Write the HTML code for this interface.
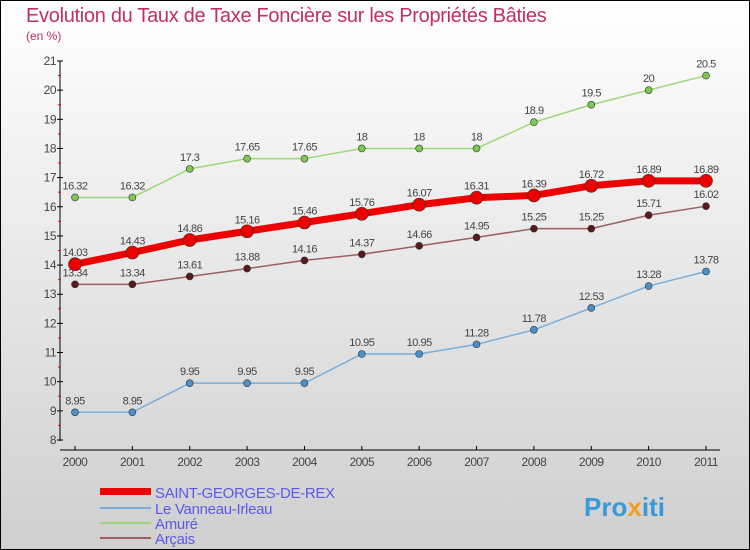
<!DOCTYPE html>
<html><head><meta charset="utf-8"><style>
body{margin:0;}
svg{display:block;font-family:"Liberation Sans","DejaVu Sans",sans-serif;}
</style></head><body>
<svg id="c" width="750" height="550" xmlns="http://www.w3.org/2000/svg">
<defs><linearGradient id="bg" x1="0" y1="0" x2="0" y2="1"><stop offset="0" stop-color="#ffffff"/><stop offset="1" stop-color="#cfcfcf"/></linearGradient></defs>
<rect x="0.5" y="0.5" width="749" height="549" fill="url(#bg)" stroke="#000"/>
<text x="26" y="22" font-size="20" fill="#c0305f" letter-spacing="-0.3">Evolution du Taux de Taxe Foncière sur les Propriétés Bâties</text>
<text x="26" y="40" font-size="12" fill="#c0305f">(en %)</text>
<g id="axes"></g>
<g id="series"></g>
<g>
<rect x="100" y="488" width="51" height="7" fill="#e00"/>
<text x="155" y="498" font-size="15" fill="#5a5ae6" letter-spacing="-0.3">SAINT-GEORGES-DE-REX</text>
<rect x="100" y="507" width="51" height="2" fill="#7aaed8"/>
<text x="155" y="514" font-size="15" fill="#5a5ae6" letter-spacing="-0.3">Le Vanneau-Irleau</text>
<rect x="100" y="522" width="51" height="2" fill="#9cd87a"/>
<text x="155" y="529" font-size="15" fill="#5a5ae6" letter-spacing="-0.3">Amuré</text>
<rect x="100" y="537" width="51" height="2" fill="#9a6060"/>
<text x="155" y="544" font-size="15" fill="#5a5ae6" letter-spacing="-0.3">Arçais</text>
</g>
<text x="584" y="516" font-size="26" font-weight="bold" fill="#3a9ad9">Pro<tspan fill="#f0a020">x</tspan>iti</text>
</svg>
<script>
const years=[2000,2001,2002,2003,2004,2005,2006,2007,2008,2009,2010,2011];
const yTicks=[8,9,10,11,12,13,14,15,16,17,18,19,20,21];
const saint=[14.03,14.43,14.86,15.16,15.46,15.76,16.07,16.31,16.39,16.72,16.89,16.89];
const vanneau=[8.95,8.95,9.95,9.95,9.95,10.95,10.95,11.28,11.78,12.53,13.28,13.78];
const amure=[16.32,16.32,17.3,17.65,17.65,18,18,18,18.9,19.5,20,20.5];
const arcais=[13.34,13.34,13.61,13.88,14.16,14.37,14.66,14.95,15.25,15.25,15.71,16.02];
const NS="http://www.w3.org/2000/svg";
const xs=i=>75+i*(706-75)/11;
const ys=v=>440-(v-8)*(440-61)/13;
function mk(t,a,p){const e=document.createElementNS(NS,t);for(const k in a)e.setAttribute(k,a[k]);p.appendChild(e);return e;}
const ax=document.getElementById('axes');
let l=mk('line',{x1:60,y1:61,x2:60,y2:441,stroke:'#000'},ax);

l=mk('line',{x1:60,y1:450,x2:720,y2:450,stroke:'#000'},ax);

yTicks.forEach((v,i)=>{
 mk('line',{x1:57,y1:ys(v),x2:63,y2:ys(v),stroke:'#000'},ax);
 if(i<yTicks.length-1)mk('line',{x1:58,y1:ys(v+0.5),x2:61,y2:ys(v+0.5),stroke:'#e00'},ax);
 const t=mk('text',{x:56,y:ys(v)+4,'font-size':12,'text-anchor':'end',fill:'#444','letter-spacing':-0.5},ax);
 t.textContent=v;
 
});
years.forEach((y,i)=>{
 mk('line',{x1:xs(i),y1:446,x2:xs(i),y2:450,stroke:'#000'},ax);
 const t=mk('text',{x:xs(i),y:466,'font-size':12,'text-anchor':'middle',fill:'#444','letter-spacing':-0.5},ax);
 t.textContent=y;
 
});
const sg=document.getElementById('series');
function series(name,data,color,w,r,fill){
 const g=mk('g',{},sg);
 
 const p=mk('polyline',{points:data.map((v,i)=>xs(i)+','+ys(v)).join(' '),fill:'none',stroke:color,'stroke-width':w},g);
 
 data.forEach((v,i)=>{
  const c=mk('circle',{cx:xs(i),cy:ys(v),r:r,fill:fill,stroke:'#333','stroke-width':0.6},g);
  
  const t=mk('text',{x:xs(i),y:ys(v)-8,'font-size':11,'text-anchor':'middle',fill:'#444','letter-spacing':-0.5},g);
  t.textContent=v;
  
 });
}
series('vanneau',vanneau,'#7aaed8',1.5,3.5,'#4a90cc');
series('amure',amure,'#9cd87a',1.5,3.5,'#7cc850');
series('arcais',arcais,'#9a6060',1.5,3.5,'#5a1a1a');
series('saint-georges',saint,'#e00',7,6.5,'#e00');
</script>
</body></html>
